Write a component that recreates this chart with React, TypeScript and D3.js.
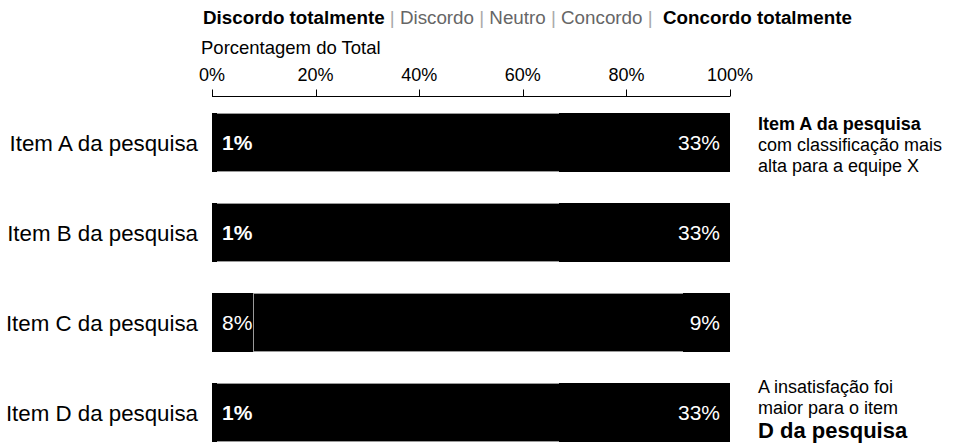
import React from "react";
import * as d3 from "d3";

const categories = ["Item A da pesquisa", "Item B da pesquisa", "Item C da pesquisa", "Item D da pesquisa"];
const discordoTotalmente = [1, 1, 8, 1];
const discordo = [5, 6, 10, 12];
const neutro = [21, 25, 30, 24];
const concordo = [40, 35, 43, 30];
const concordoTotalmente = [33, 33, 9, 33];
const tickValues = [0, 20, 40, 60, 80, 100];
const legendLabels = ["Discordo totalmente", "Discordo", "Neutro", "Concordo", "Concordo totalmente"];

const W = 954;
const H = 448;
const FONT = "'Liberation Sans', Arial, Helvetica, sans-serif";

export default function App() {
  const x = d3.scaleLinear().domain([0, 100]).range([212, 730]);
  const y = d3
    .scaleBand<string>()
    .domain(categories)
    .range([97.5, 457.5])
    .paddingInner(0.344)
    .paddingOuter(0.172);
  const bh = Math.round(y.bandwidth());
  const axisY = 96.5;

  const series = [discordoTotalmente, discordo, neutro, concordo, concordoTotalmente];
  const stack = categories.map((c, i) => {
    let acc = 0;
    return series.map((s, k) => {
      const x0 = acc;
      acc += s[i];
      return { k, x0, x1: acc, v: s[i] };
    });
  });

  return (
    <svg width={W} height={H} style={{ position: "absolute", left: 0, top: 0, fontFamily: FONT }}>
      <rect width={W} height={H} fill="#fff" />
      {/* legend */}
      <text x={203} y={24} fontSize={18.8} style={{ whiteSpace: "pre" }}>
        <tspan fontWeight="bold" fill="#000">{legendLabels[0]}</tspan>
        <tspan fill="#aaa">{" | "}</tspan>
        <tspan fill="#666">{legendLabels[1]}</tspan>
        <tspan fill="#aaa">{" | "}</tspan>
        <tspan fill="#666">{legendLabels[2]}</tspan>
        <tspan fill="#aaa">{" | "}</tspan>
        <tspan fill="#666">{legendLabels[3]}</tspan>
        <tspan fill="#aaa">{" |  "}</tspan>
        <tspan fontWeight="bold" fill="#000">{legendLabels[4]}</tspan>
      </text>
      <text x={201} y={54} fontSize={18.5} fill="#000">Porcentagem do Total</text>
      {/* axis */}
      <line x1={x(0)} x2={x(100)} y1={axisY} y2={axisY} stroke="#000" strokeWidth={1} />
      {tickValues.map((t) => (
        <g key={t}>
          <line x1={Math.round(x(t)) + 0.5} x2={Math.round(x(t)) + 0.5} y1={axisY} y2={axisY - 7} stroke="#000" />
          <text x={x(t)} y={81} fontSize={18} textAnchor="middle" fill="#000">{t + "%"}</text>
        </g>
      ))}
      {/* bars */}
      {categories.map((c, i) => {
        const y0 = Math.round(y(c)!);
        const cy = y0 + bh / 2;
        return (
          <g key={c}>
            <text x={198} y={cy + 8} fontSize={22.3} textAnchor="end" fill="#000">{c}</text>
            {stack[i].map((d) => {
              const xa = Math.round(x(d.x0));
              const xb = Math.round(x(d.x1));
              const w = xb - xa;
              return (
                <rect key={d.k} x={xa} y={y0} width={w} height={bh} fill="#000" shapeRendering="crispEdges" />
              );
            })}
            {stack[i]
              .filter((d) => d.k > 0 && d.k < 4)
              .map((d) => {
                const xa = Math.round(x(d.x0));
                const xb = Math.round(x(d.x1));
                return (
                  <g key={"s" + d.k} stroke="#9a9a9a" strokeWidth={1} shapeRendering="crispEdges">
                    <line x1={xa} x2={xb} y1={y0 + 0.5} y2={y0 + 0.5} />
                    <line x1={xa} x2={xb} y1={y0 + bh - 0.5} y2={y0 + bh - 0.5} />
                    {d.k === 1 && discordoTotalmente[i] > 3 ? (
                      <line x1={xa + 0.5} x2={xa + 0.5} y1={y0} y2={y0 + bh} />
                    ) : null}
                  </g>
                );
              })}
            <text
              x={x(0) + 10}
              y={cy + 7.5}
              fontSize={21}
              fill="#fff"
              fontWeight={discordoTotalmente[i] < 5 ? "bold" : "normal"}
            >
              {discordoTotalmente[i] + "%"}
            </text>
            <text x={x(100) - 10} y={cy + 7.5} fontSize={21} fill="#fff" textAnchor="end">
              {concordoTotalmente[i] + "%"}
            </text>
          </g>
        );
      })}
      {/* annotations */}
      <text x={758} fontSize={18} fill="#000">
        <tspan x={758} y={130} fontWeight="bold">Item A da pesquisa</tspan>
        <tspan x={758} y={151}>com classificação mais</tspan>
        <tspan x={758} y={172}>alta para a equipe X</tspan>
      </text>
      <text x={758} fontSize={18} fill="#000">
        <tspan x={758} y={393}>A insatisfação foi</tspan>
        <tspan x={758} y={414}>maior para o item</tspan>
        <tspan x={758} y={438} fontWeight="bold" fontSize={22}>D da pesquisa</tspan>
      </text>
    </svg>
  );
}
